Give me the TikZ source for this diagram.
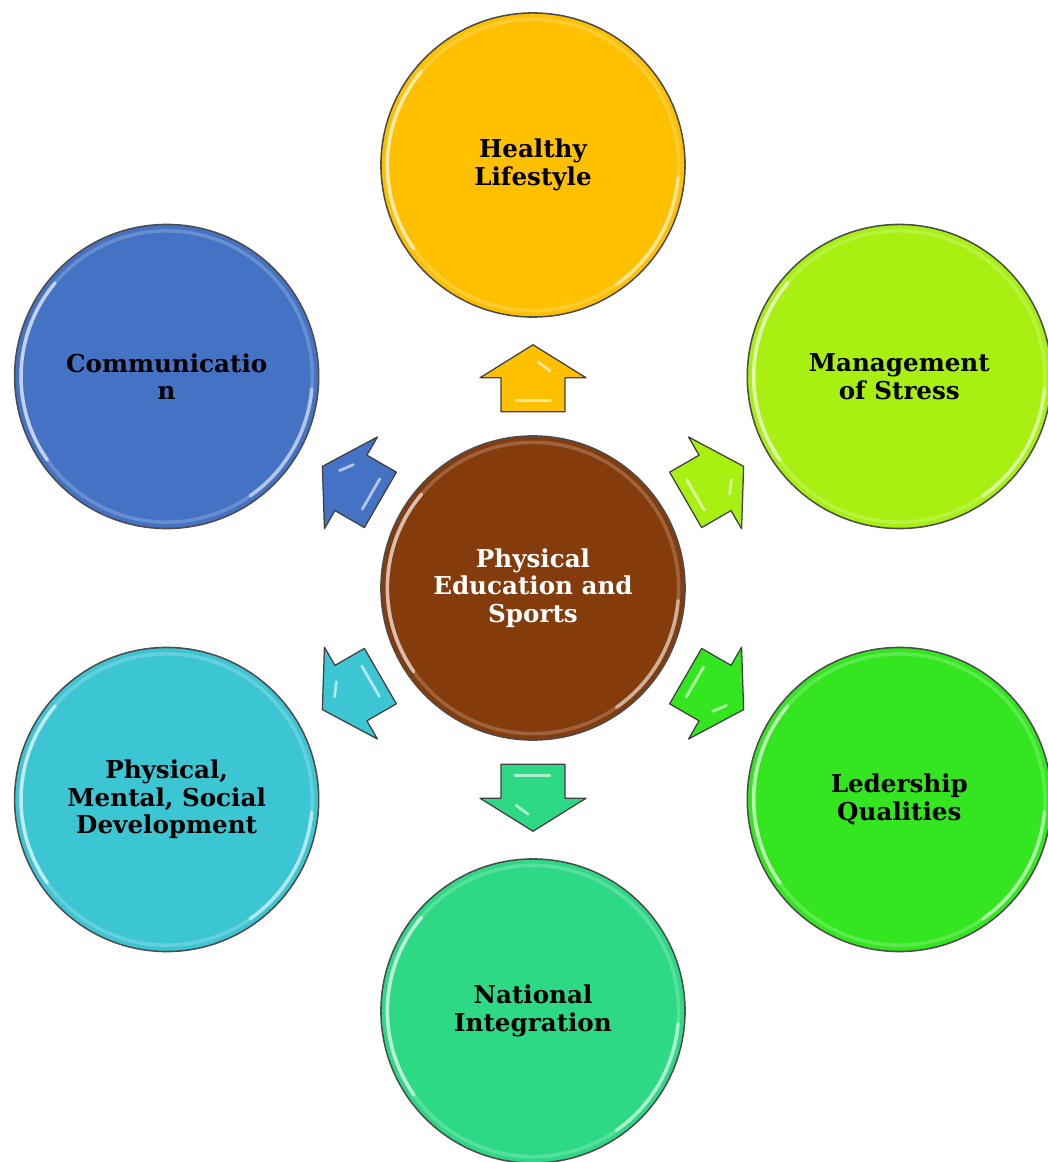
\documentclass[tikz,border=0pt]{standalone}
\usepackage{fontspec}
\setmainfont{DejaVu Serif}
\usetikzlibrary{calc}

\definecolor{healthcol}{HTML}{FFC000}
\definecolor{stresscol}{HTML}{A8F012}
\definecolor{leadcol}{HTML}{34E620}
\definecolor{nationcol}{HTML}{2ED985}
\definecolor{developcol}{HTML}{3CC5D2}
\definecolor{commcol}{HTML}{4472C4}
\definecolor{pescol}{HTML}{843C0C}

\begin{document}
\begin{tikzpicture}[
    x=0.025cm, y=0.025cm,
    topic/.style={circle, draw=black!70, line width=1.1pt, minimum size=7.6cm, inner sep=0pt,
        align=center, font=\bfseries\fontsize{17.5}{19.5}\selectfont,
        path picture={
            \draw[white, opacity=.2, line width=2.5pt] (path picture bounding box.center) circle (3.64cm);
            \draw[white, opacity=.6, line width=2.5pt, line cap=round]
                ([shift={(140:3.64cm)}]path picture bounding box.center) arc (140:215:3.64cm);
            \draw[white, opacity=.5, line width=2.5pt, line cap=round]
                ([shift={(-55:3.64cm)}]path picture bounding box.center) arc (-55:-5:3.64cm);
        }},
    hub/.style={topic, text=white},
    pics/blockarrow/.style={code={
        \filldraw[fill=#1, draw=black!75, line width=0.9pt, line join=round]
            (0,33) -- (53,0) -- (32,0) -- (32,-34) -- (-32,-34) -- (-32,0) -- (-53,0) -- cycle;
        \draw[white, opacity=.6, line width=2pt, line cap=round] (5,16) -- (17,7);
        \draw[white, opacity=.6, line width=2pt, line cap=round] (-17,-23) -- (18,-23);
    }}
]

\useasboundingbox (-533,-574) rectangle (514,588);

% --- NODES ---

% Hub
\node[hub, fill=pescol] (pes) at (0,0) {Physical\\Education and\\Sports};

% Ring of outcomes
\node[topic, fill=healthcol] (health) at ($(pes)+(90:423)$) {Healthy\\Lifestyle};
\node[topic, fill=stresscol] (stress) at ($(pes)+(30:423)$) {Management\\of Stress};
\node[topic, fill=leadcol] (lead) at ($(pes)+(-30:423)$) {Ledership\\Qualities};
\node[topic, fill=nationcol] (nation) at ($(pes)+(-90:423)$) {National\\Integration};
\node[topic, fill=developcol] (develop) at ($(pes)+(-150:423)$) {Physical,\\Mental, Social\\Development};
\node[topic, fill=commcol] (comm) at ($(pes)+(150:423)$) {Communicatio\\n};

% --- ARROWS ---
\pic[rotate=0] at ($(pes)!0.497!(health)$) {blockarrow=healthcol};
\pic[rotate=-60] at ($(pes)!0.497!(stress)$) {blockarrow=stresscol};
\pic[rotate=-120] at ($(pes)!0.497!(lead)$) {blockarrow=leadcol};
\pic[rotate=180] at ($(pes)!0.497!(nation)$) {blockarrow=nationcol};
\pic[rotate=120] at ($(pes)!0.497!(develop)$) {blockarrow=developcol};
\pic[rotate=60] at ($(pes)!0.497!(comm)$) {blockarrow=commcol};

\end{tikzpicture}
\end{document}
